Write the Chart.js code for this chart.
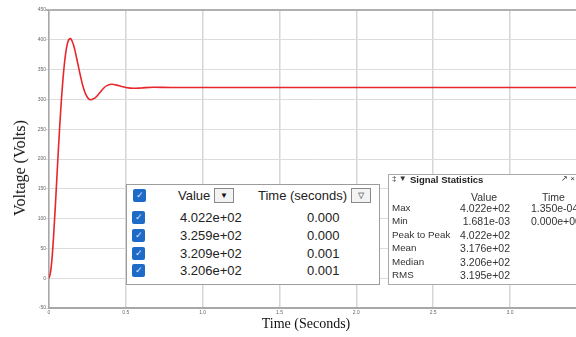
<!DOCTYPE html>
<html lang="en">
<head>
<meta charset="UTF-8" />
<title>Voltage step response</title>
<script src="https://cdn.jsdelivr.net/npm/chart.js"></script>
<style>
  html, body { margin: 0; padding: 0; background: #fff; overflow: hidden; }
  #wrap { position: relative; width: 576px; height: 337px; overflow: hidden; font-family: "Liberation Sans", Arial, sans-serif; color: #222; }
  #chart { position: absolute; left: 0; top: 0; }
  .box { position: absolute; background: #fff; border: 1px solid #9c9c9c; box-sizing: border-box; }
  .t { position: absolute; white-space: nowrap; line-height: 1; }
  .chk { position: absolute; width: 13px; height: 13px; border-radius: 2px; background: #1d6bc6; color: #dfeaff; font-size: 9px; line-height: 13px; text-align: center; }
  .dd { position: absolute; width: 18px; height: 13px; border: 1px solid #8a8a8a; background: #f3f3f3; color: #111; font-size: 8px; line-height: 13px; text-align: center; }
  .axt { position: absolute; white-space: nowrap; line-height: 1; font-family: "Liberation Serif", "Times New Roman", serif; color: #111; }
</style>
</head>
<body>
<div id="wrap">
  <canvas id="chart" width="576" height="337"></canvas>
  <div class="axt" id="yTitle" style="font-size:16px; left:20px; top:168px; transform: translate(-50%, -50%) rotate(-90deg);">Voltage (Volts)</div>
  <div class="axt" id="xTitle" style="font-size:14px; left:306px; top:324px; transform: translate(-50%, -50%);">Time (Seconds)</div>
  <div class="box" id="cursorBox" style="left:126px; top:184px; width:254px; height:101px;"></div>
  <div class="box" id="statsBox" style="left:388px; top:174px; width:200px; height:111px; border-color:#aaa;"></div>
</div>

<script>
  // curve (seconds, volts)
  const timeValues = [0, 0.01, 0.02, 0.03, 0.04, 0.05, 0.06, 0.07, 0.08, 0.09, 0.10,
    0.11, 0.12, 0.13, 0.14, 0.15, 0.16, 0.17, 0.18, 0.19, 0.20,
    0.22, 0.24, 0.26, 0.27, 0.28, 0.30, 0.33, 0.36, 0.38, 0.41, 0.44, 0.47, 0.50,
    0.55, 0.60, 0.68, 0.80, 1.0, 1.5, 2.0, 2.5, 3.0, 3.43];
  const voltageValues = [0, 10, 34, 71, 115, 163, 211, 256, 297, 331, 359,
    380, 394, 400.5, 402, 398, 391, 381, 369, 357, 345,
    323, 308, 300.5, 299.5, 300, 302.5, 311, 320, 323.5, 325.3, 324, 321.8, 320,
    318.6, 319.2, 320.4, 320, 320, 320, 320, 320, 320, 320];
  const xTicks = [0, 0.5, 1, 1.5, 2, 2.5, 3];
  const yTicks = [-50, 0, 50, 100, 150, 200, 250, 300, 350, 400, 450];

  // cursor table
  const cursorValues = ['4.022e+02', '3.259e+02', '3.209e+02', '3.206e+02'];
  const cursorTimes = ['0.000', '0.000', '0.001', '0.001'];

  // signal statistics
  const statLabels = ['Max', 'Min', 'Peak to Peak', 'Mean', 'Median', 'RMS'];
  const statValues = ['4.022e+02', '1.681e-03', '4.022e+02', '3.176e+02', '3.206e+02', '3.195e+02'];
  const statTimes = ['1.350e-04', '0.000e+00', '', '', '', ''];

  function addText(parent, text, left, top, style) {
    const s = document.createElement('span');
    s.className = 't';
    s.textContent = text;
    s.style.left = left + 'px';
    s.style.top = top + 'px';
    if (style) Object.assign(s.style, style);
    parent.appendChild(s);
    return s;
  }

  function addCheck(parent, left, top) {
    const c = document.createElement('div');
    c.className = 'chk';
    c.textContent = '\u2713';
    c.style.left = left + 'px';
    c.style.top = top + 'px';
    parent.appendChild(c);
  }

  // positions below are relative to the inner box (absolute minus border)
  const cb = document.getElementById('cursorBox');
  const ox = 127, oy = 185;
  addCheck(cb, 133 - ox, 189 - oy);
  addText(cb, 'Value', 178 - ox, 195 - 6.5 - oy, { fontSize: '13px' });
  const d1 = document.createElement('div');
  d1.className = 'dd'; d1.textContent = '\u25BC';
  d1.style.left = (214 - ox) + 'px'; d1.style.top = (188 - oy) + 'px';
  cb.appendChild(d1);
  addText(cb, 'Time (seconds)', 258 - ox, 195 - 6.5 - oy, { fontSize: '13px' });
  const d2 = document.createElement('div');
  d2.className = 'dd'; d2.textContent = '\u25BD';
  d2.style.left = (351 - ox) + 'px'; d2.style.top = (188 - oy) + 'px';
  cb.appendChild(d2);
  const rowY = [217, 235, 253, 270];
  cursorValues.forEach((v, i) => {
    addCheck(cb, 132 - ox, rowY[i] - 6.5 - oy);
    addText(cb, v, 180 - ox, rowY[i] - 6.5 - oy, { fontSize: '13px' });
    addText(cb, cursorTimes[i], 307 - ox, rowY[i] - 6.5 - oy, { fontSize: '13px' });
  });

  const sb = document.getElementById('statsBox');
  const sx = 389, sy = 175;
  addText(sb, '\u2021 \u25BC', 392 - sx, 175 - sy, { fontSize: '8px', color: '#333' });
  addText(sb, 'Signal Statistics', 410 - sx, 180 - 5 - sy, { fontSize: '9.5px', fontWeight: 'bold', color: '#222' });
  addText(sb, '\u2197 \u00D7', 561 - sx, 175 - sy, { fontSize: '8px', color: '#333' });
  addText(sb, 'Value', 471 - sx, 197 - 5.5 - sy, { fontSize: '10.5px', color: '#333' });
  addText(sb, 'Time', 542 - sx, 197 - 5.5 - sy, { fontSize: '10.5px', color: '#333' });
  statLabels.forEach((lab, i) => {
    const y = 208 + 13.5 * i - 5.5 - sy;
    addText(sb, lab, 392 - sx, y, { fontSize: '9.8px', color: '#333' });
    addText(sb, statValues[i], 440 - sx, y, { fontSize: '10.5px', color: '#333', width: '70px', textAlign: 'right' });
    if (statTimes[i]) addText(sb, statTimes[i], 531 - sx, y, { fontSize: '10.5px', color: '#333' });
  });

  const points = timeValues.map((t, i) => ({ x: t, y: voltageValues[i] }));

  new Chart(document.getElementById('chart').getContext('2d'), {
    type: 'line',
    data: {
      datasets: [{
        data: points,
        borderColor: '#e8262b',
        borderWidth: 1.6,
        pointRadius: 0,
        cubicInterpolationMode: 'monotone',
        fill: false
      }]
    },
    options: {
      responsive: false,
      animation: false,
      layout: { padding: { left: 0, right: 0, top: 10, bottom: 0 } },
      plugins: { legend: { display: false }, tooltip: { enabled: false } },
      scales: {
        x: {
          type: 'linear',
          min: 0,
          max: 3.43,
          afterFit(s) { s.height = 29; },
          afterBuildTicks(s) { s.ticks = xTicks.map(v => ({ value: v })); },
          grid: { color: '#d6d6d6', lineWidth: 1.5, drawTicks: false },
          border: { color: '#a8a8a8', width: 2 },
          ticks: { padding: 2, color: '#666', font: { size: 5, family: 'Liberation Sans' }, maxRotation: 0 }
        },
        y: {
          min: -50,
          max: 450,
          afterFit(s) { s.width = 49; },
          afterBuildTicks(s) { s.ticks = yTicks.map(v => ({ value: v })); },
          grid: {
            color: ctx => (ctx.tick && ctx.tick.value === 450 ? '#b0b0b0' : '#dcdcdc'),
            lineWidth: ctx => (ctx.tick && ctx.tick.value === 450 ? 2 : 1),
            tickLength: 3
          },
          border: { color: '#a8a8a8', width: 1.5 },
          ticks: { padding: 0, color: '#666', font: { size: 5, family: 'Liberation Sans' } }
        }
      }
    }
  });
</script>
</body>
</html>
